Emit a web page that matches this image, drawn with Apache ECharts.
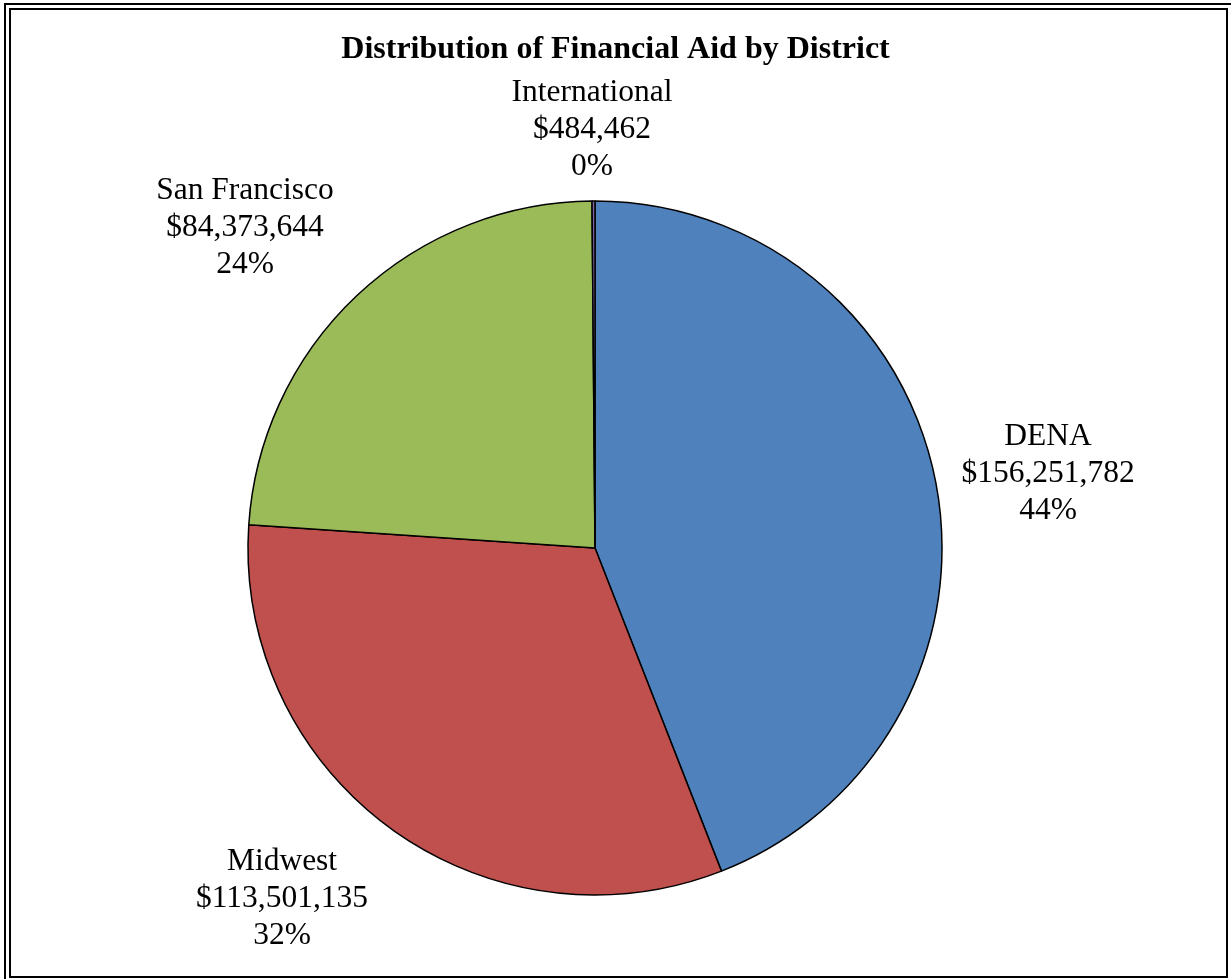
<!DOCTYPE html>
<html>
<head>
<meta charset="utf-8">
<style>
  html, body { margin: 0; padding: 0; background: #fff; }
  #chart { width: 1231px; height: 979px; }
</style>
<script src="https://cdn.jsdelivr.net/npm/echarts@6/dist/echarts.min.js"></script>
</head>
<body>
<div id="chart"></div>
<script>
// data
var districts = ['DENA', 'Midwest', 'San Francisco', 'International'];
var amounts = [156251782, 113501135, 84373644, 484462];
var sliceColors = ['#4F81BD', '#C0504D', '#9BBB59', '#8064A2'];

// where each label block sits (centre of the middle line)
var labelPos = [[1048, 474], [282, 899], [245, 228], [592, 130]];

var serif = '"Liberation Serif", "Times New Roman", serif';

var chart = echarts.init(document.getElementById('chart'));

var option = {
    backgroundColor: '#fff',
    animation: false,
    title: {
        text: 'Distribution of Financial Aid by District',
        left: 'center',
        top: 29,
        textStyle: {
            fontFamily: serif,
            fontSize: 32,
            fontWeight: 'bold',
            color: '#000'
        }
    },
    graphic: [
        {
            type: 'rect',
            shape: { x: 5, y: 4, width: 1260, height: 1000 },
            style: { fill: 'none', stroke: '#000', lineWidth: 2 }
        },
        {
            type: 'rect',
            shape: { x: 10, y: 9, width: 1217, height: 968 },
            style: { fill: 'none', stroke: '#000', lineWidth: 2 }
        }
    ],
    series: [
        {
            type: 'pie',
            center: [595, 548],
            radius: 347,
            startAngle: 90,
            clockwise: true,
            percentPrecision: 0,
            itemStyle: {
                borderColor: '#000',
                borderWidth: 1.5
            },
            label: {
                show: true,
                position: 'outside',
                fontFamily: serif,
                fontSize: 31.5,
                lineHeight: 37,
                color: '#000',
                align: 'center',
                formatter: function (p) {
                    return p.name + '\n$' + echarts.format.addCommas(p.value) + '\n' + p.percent + '%';
                }
            },
            labelLine: { show: false },
            labelLayout: function (p) {
                var pos = labelPos[p.dataIndex];
                return { x: pos[0], y: pos[1], align: 'center', verticalAlign: 'middle' };
            },
            emphasis: { disabled: true },
            data: districts.map(function (name, i) {
                return {
                    name: name,
                    value: amounts[i],
                    itemStyle: { color: sliceColors[i] }
                };
            })
        }
    ]
};

chart.setOption(option);
</script>
</body>
</html>
